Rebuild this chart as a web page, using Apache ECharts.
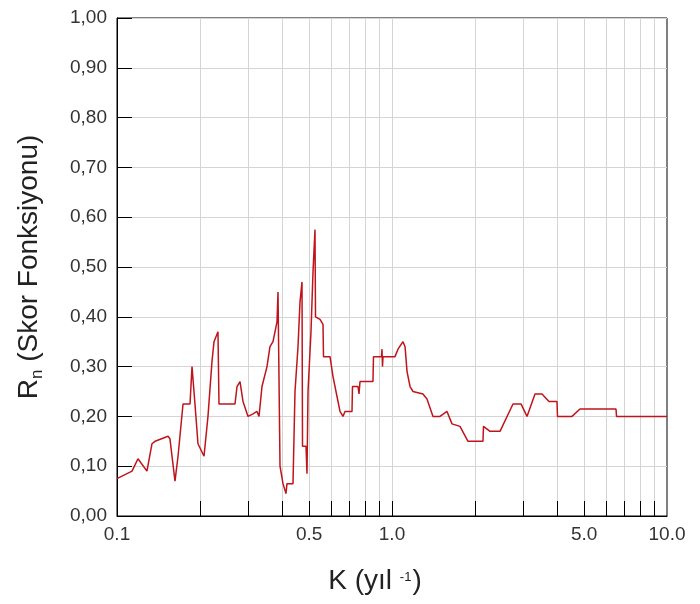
<!DOCTYPE html>
<html>
<head>
<meta charset="utf-8">
<script src="https://cdn.jsdelivr.net/npm/echarts@6/dist/echarts.min.js"></script>
<style>
html,body{margin:0;padding:0;background:#fff;}
#c{width:700px;height:604px;}
</style>
</head>
<body>
<div id="c"></div>
<script>
// K values (1/yıl) along the curve
var kValues = [0.1, 0.1134, 0.1192, 0.1285, 0.1340, 0.1375, 0.1533, 0.1558, 0.1625, 0.1667,
  0.1738, 0.1843, 0.1874, 0.1921, 0.1970, 0.2072, 0.2142, 0.2215, 0.2253, 0.2329,
  0.2349, 0.2686, 0.2732, 0.2801, 0.2872, 0.2995, 0.3123, 0.3229, 0.3284, 0.3367,
  0.3511, 0.3600, 0.3692, 0.3818, 0.3850, 0.3915, 0.4014, 0.4116, 0.4151, 0.4365,
  0.4439, 0.4552, 0.4629, 0.4707, 0.4727, 0.4867, 0.4908, 0.4950, 0.5075, 0.5161,
  0.5248, 0.5270, 0.5472, 0.5612, 0.5635, 0.5951, 0.6102, 0.6310, 0.6470, 0.6635,
  0.6747, 0.7154, 0.7183, 0.7522, 0.7586, 0.7650, 0.8528, 0.8563, 0.9158, 0.9197,
  0.9235, 0.9274, 1.0254, 1.0515, 1.0965, 1.1154, 1.1343, 1.1630, 1.1922, 1.2960,
  1.3404, 1.4096, 1.4945, 1.5849, 1.6527, 1.7673, 1.8895, 2.1423, 2.1513, 2.2715,
  2.4703, 2.7542, 2.9450, 3.0969, 3.3113, 3.5112, 3.7229, 3.9811, 3.9977, 4.5131,
  4.8263, 6.5247, 6.5520, 10.0];
// Rn (score function) values
var rnValues = [0.075, 0.09, 0.115, 0.09, 0.145, 0.15, 0.16, 0.155, 0.07, 0.12,
  0.225, 0.225, 0.30, 0.225, 0.145, 0.12, 0.20, 0.31, 0.35, 0.37,
  0.225, 0.225, 0.26, 0.27, 0.23, 0.20, 0.205, 0.21, 0.20, 0.26,
  0.30, 0.34, 0.35, 0.39, 0.45, 0.10, 0.065, 0.045, 0.065, 0.065,
  0.25, 0.34, 0.43, 0.47, 0.14, 0.14, 0.085, 0.25, 0.37, 0.49,
  0.575, 0.40, 0.395, 0.385, 0.32, 0.32, 0.28, 0.24, 0.21, 0.20,
  0.21, 0.21, 0.26, 0.26, 0.245, 0.27, 0.27, 0.32, 0.32, 0.335,
  0.30, 0.32, 0.32, 0.335, 0.35, 0.34, 0.29, 0.26, 0.25, 0.245,
  0.235, 0.20, 0.20, 0.21, 0.185, 0.18, 0.15, 0.15, 0.18, 0.17,
  0.17, 0.225, 0.225, 0.20, 0.245, 0.245, 0.23, 0.23, 0.20, 0.20,
  0.215, 0.215, 0.20, 0.20];
// x tick positions (K) and labelled K values
var xTickValues = [0.2, 0.3, 0.4, 0.5, 0.6, 0.7, 0.8, 0.9, 1, 2, 3, 4, 5, 6, 7, 8, 9];
var xLabelValues = [0.1, 0.5, 1, 5, 10];

var lg = function (v) { return Math.log10(v); };
var seriesData = kValues.map(function (k, i) { return [lg(k), rnValues[i]]; });

var font = '"Liberation Sans", Arial, sans-serif';
var chart = echarts.init(document.getElementById('c'), null, {renderer: 'canvas'});
chart.setOption({
  animation: false,
  backgroundColor: '#ffffff',
  grid: {left: 117, right: 33, top: 18, bottom: 88, show: true, borderColor: '#000', borderWidth: 1, backgroundColor: 'transparent'},
  xAxis: {
    type: 'value', min: -1, max: 1,
    axisLine: {show: true, onZero: false, lineStyle: {color: '#000', width: 1}},
    axisTick: {show: true, inside: true, length: 15, lineStyle: {color: '#000', width: 1},
      customValues: xTickValues.map(lg)},
    axisLabel: {show: true, margin: 9, color: '#333', fontFamily: font, fontSize: 19,
      customValues: xLabelValues.map(lg),
      formatter: function (v) { return Math.pow(10, v).toFixed(1); }},
    splitLine: {show: true, lineStyle: {color: '#d4d4d4', width: 1}},
    name: '{a|K (yıl }{s|-1}{a|)}',
    nameLocation: 'middle', nameGap: 49,
    nameTextStyle: {
      padding: [0, 34, 0, 0],
      rich: {
        a: {fontFamily: font, fontSize: 28, color: '#222', lineHeight: 32},
        s: {fontFamily: font, fontSize: 13, color: '#222', verticalAlign: 'top', padding: [6, 1, 0, 0]}
      }
    }
  },
  yAxis: {
    type: 'value', min: 0, max: 1, interval: 0.1,
    axisLine: {show: true, onZero: false, lineStyle: {color: '#000', width: 1}},
    axisTick: {show: true, inside: true, length: 15, lineStyle: {color: '#000', width: 1}},
    axisLabel: {show: true, margin: 10, color: '#333', fontFamily: font, fontSize: 19,
      formatter: function (v) { return v.toFixed(2).replace('.', ','); }},
    splitLine: {show: true, lineStyle: {color: '#d4d4d4', width: 1}},
    name: '{a|R}{s|n}{a| (Skor Fonksiyonu)}',
    nameLocation: 'middle', nameGap: 71, nameRotate: 90,
    nameTextStyle: {
      rich: {
        a: {fontFamily: font, fontSize: 28, color: '#222', lineHeight: 34},
        s: {fontFamily: font, fontSize: 17, color: '#222', verticalAlign: 'bottom'}
      }
    }
  },
  series: [{
    type: 'line',
    data: seriesData,
    showSymbol: false,
    symbol: 'none',
    lineStyle: {color: '#c0141c', width: 1.5},
    z: 5
  }]
});
</script>
</body>
</html>
